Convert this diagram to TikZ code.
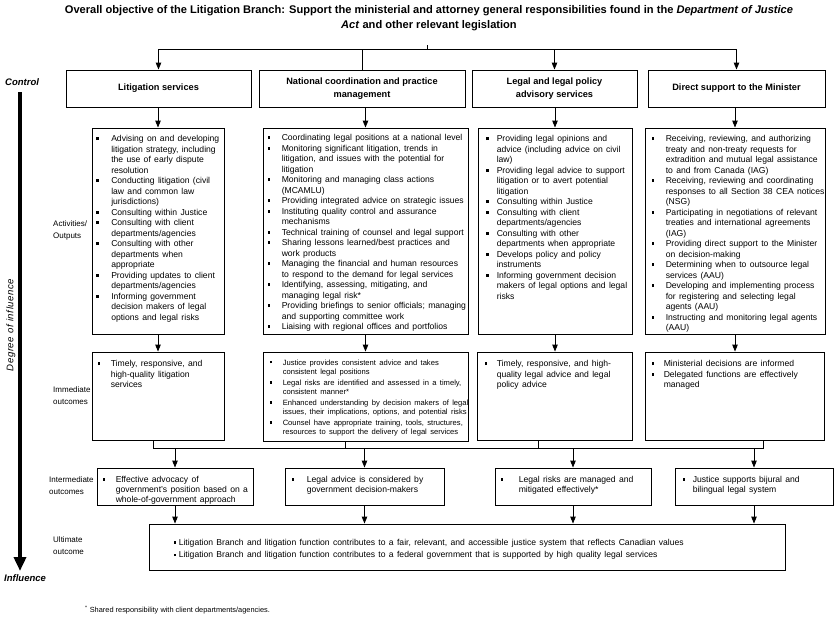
\documentclass[tikz,border=0pt]{standalone}
\usepackage{fontspec}
\setmainfont{Liberation Sans}
\usetikzlibrary{arrows.meta,calc,fit}
\newlength\itmI
\newlength\itmB
\newcommand\bsq{\rule[1.7pt]{2.6pt}{2.6pt}}
\newcommand\itm[1]{\par\noindent\hangindent=\itmI\hangafter=1\strut\makebox[\itmI][l]{\hspace{\itmB}\bsq}#1\strut\par}
\newcommand\brk{\newline}
\newcommand\setb[2]{\setlength\itmB{#1pt}\setlength\itmI{#2pt}}
\newcommand\actf{\fontsize{8.6}{10.5}\selectfont}
\newcommand\intf{\fontsize{8.6}{10}\selectfont}
\tikzset{
  boxf/.style={draw, line width=0.9pt, inner sep=0pt},
  txt/.style={anchor=north west, inner sep=0pt, text width=300pt},
  conn/.style={line width=0.9pt},
  arr/.style={line width=0.9pt, -{Triangle[width=5.5pt,length=7pt]}},
  hdr/.style={font=\fontsize{9.2}{13.5}\selectfont\bfseries, align=center},
  lab/.style={font=\fontsize{8}{12}\selectfont, align=left, anchor=west, inner sep=0pt},
  axlab/.style={font=\fontsize{9.5}{11}\selectfont\bfseries\itshape, anchor=west, inner sep=0pt},
}
\begin{document}
\begin{tikzpicture}[x=1pt,y=-1pt]
\useasboundingbox (0,0) rectangle (836,622);
\fill[white] (0,0) rectangle (836,622);

% title
\node[font=\fontsize{11.1}{15.5}\selectfont\bfseries, align=center] (title) at (429,18)
  {Overall objective of the Litigation Branch: Support the ministerial and attorney general responsibilities found in the \textit{Department of Justice}\\\textit{Act} and other relevant legislation};

% header boxes
\node[boxf, fit={(66,70) (251,107)}] (H1) {};
\node[hdr] (H1t) at (H1) {Litigation services};
\node[boxf, fit={(259,70) (465,107)}] (H2) {};
\node[hdr] (H2t) at (H2) {National coordination and practice\\management};
\node[boxf, fit={(472,70) (637,107)}] (H3) {};
\node[hdr] (H3t) at (H3) {Legal and legal policy\\advisory services};
\node[boxf, fit={(648,70) (825,107)}] (H4) {};
\node[hdr] (H4t) at (H4) {Direct support to the Minister};

% activities
\node[boxf, fit={(92,128) (224,334)}] (A) {};
\node[txt] (At) at ($(A.north west)+(0,3.5)$) {\actf\setb{4.5}{19.5}%
\itm{Advising on and developing\brk litigation strategy, including\brk the use of early dispute\brk resolution}
\itm{Conducting litigation (civil\brk law and common law\brk jurisdictions)}
\itm{Consulting within Justice}
\itm{Consulting with client\brk departments/agencies}
\itm{Consulting with other\brk departments when\brk appropriate}
\itm{Providing updates to client\brk departments/agencies}
\itm{Informing government\brk decision makers of legal\brk options and legal risks}};

\node[boxf, fit={(263,128) (468,334)}] (B) {};
\node[txt] (Bt) at ($(B.north west)+(0,2.5)$) {\actf\setb{5}{19}%
\itm{Coordinating legal positions at a national level}
\itm{Monitoring significant litigation, trends in\brk litigation, and issues with the potential for\brk litigation}
\itm{Monitoring and managing class actions\brk (MCAMLU)}
\itm{Providing integrated advice on strategic issues}
\itm{Instituting quality control and assurance\brk mechanisms}
\itm{Technical training of counsel and legal support}
\itm{Sharing lessons learned/best practices and\brk work products}
\itm{Managing the financial and human resources\brk to respond to the demand for legal services}
\itm{Identifying, assessing, mitigating, and\brk managing legal risk*}
\itm{Providing briefings to senior officials; managing\brk and supporting committee work}
\itm{Liaising with regional offices and portfolios}};

\node[boxf, fit={(478,128) (632,334)}] (C) {};
\node[txt] (Ct) at ($(C.north west)+(0,3.5)$) {\actf\setb{8.5}{19}%
\itm{Providing legal opinions and\brk advice (including advice on civil\brk law)}
\itm{Providing legal advice to support\brk litigation or to avert potential\brk litigation}
\itm{Consulting within Justice}
\itm{Consulting with client\brk departments/agencies}
\itm{Consulting with other\brk departments when appropriate}
\itm{Develops policy and policy\brk instruments}
\itm{Informing government decision\brk makers of legal options and legal\brk risks}};

\node[boxf, fit={(645,128) (825,334)}] (D) {};
\node[txt] (Dt) at ($(D.north west)+(0,3.5)$) {\actf\setb{7}{21}%
\itm{Receiving, reviewing, and authorizing\brk treaty and non-treaty requests for\brk extradition and mutual legal assistance\brk to and from Canada (IAG)}
\itm{Receiving, reviewing and coordinating\brk responses to all Section 38 CEA notices\brk (NSG)}
\itm{Participating in negotiations of relevant\brk treaties and international agreements\brk (IAG)}
\itm{Providing direct support to the Minister\brk on decision-making}
\itm{Determining when to outsource legal\brk services (AAU)}
\itm{Developing and implementing process\brk for registering and selecting legal\brk agents (AAU)}
\itm{Instructing and monitoring legal agents\brk (AAU)}};

% immediate outcomes
\node[boxf, fit={(92,352) (224,440)}] (IA) {};
\node[txt] (IAt) at ($(IA.north west)+(0,4.5)$) {\actf\setb{6}{19}%
\itm{Timely, responsive, and\brk high-quality litigation\brk services}};
\node[boxf, fit={(263,352) (468,441)}] (IB) {};
\node[txt] (IBt) at ($(IB.north west)+(0,2.4)$) {\fontsize{7.6}{9.2}\selectfont\setlength\parskip{1.8pt}\setb{7}{20}%
\itm{Justice provides consistent advice and takes\brk consistent legal positions}
\itm{Legal risks are identified and assessed in a timely,\brk consistent manner*}
\itm{Enhanced understanding by decision makers of legal\brk issues, their implications, options, and potential risks}
\itm{Counsel have appropriate training, tools, structures,\brk resources to support the delivery of legal services}};
\node[boxf, fit={(477,352) (632,440)}] (IC) {};
\node[txt] (ICt) at ($(IC.north west)+(0,4.5)$) {\actf\setb{8}{20}%
\itm{Timely, responsive, and high-\brk quality legal advice and legal\brk policy advice}};
\node[boxf, fit={(645,352) (824,440)}] (ID) {};
\node[txt] (IDt) at ($(ID.north west)+(0,4.5)$) {\actf\setb{7}{19}%
\itm{Ministerial decisions are informed}
\itm{Delegated functions are effectively\brk managed}};

% intermediate outcomes
\node[boxf, fit={(97,468) (253,505)}] (M1) {};
\node[txt] (M1t) at ($(M1.north west)+(0,4.5)$) {\intf\setb{6}{19}%
\itm{Effective advocacy of\brk government's position based on a\brk whole-of-government approach}};
\node[boxf, fit={(285,468) (444,505)}] (M2) {};
\node[txt] (M2t) at ($(M2.north west)+(0,4.5)$) {\intf\setb{7}{22}%
\itm{Legal advice is considered by\brk government decision-makers}};
\node[boxf, fit={(495,468) (651,505)}] (M3) {};
\node[txt] (M3t) at ($(M3.north west)+(0,4.5)$) {\intf\setb{6}{24}%
\itm{Legal risks are managed and\brk mitigated effectively*}};
\node[boxf, fit={(675,468) (833,505)}] (M4) {};
\node[txt] (M4t) at ($(M4.north west)+(0,4.5)$) {\intf\setb{8}{18}%
\itm{Justice supports bijural and\brk bilingual legal system}};

% ultimate outcome
\node[boxf, fit={(149,524) (785,570)}] (U) {};
\node[txt, text width=630pt] (Ut) at ($(U.north west)+(0,9)$) {\fontsize{8.6}{12.5}\selectfont\renewcommand\bsq{\rule[1.7pt]{2.3pt}{2.3pt}}\setb{25}{30}%
\itm{Litigation Branch and litigation function contributes to a fair, relevant, and accessible justice system that reflects Canadian values}
\itm{Litigation Branch and litigation function contributes to a federal government that is supported by high quality legal services}};

% left side labels
\node[lab] (L1) at (53,230) {Activities/\\Outputs};
\node[lab] (L2) at (53,396) {Immediate\\outcomes};
\node[lab] (L3) at (49,486) {Intermediate\\outcomes};
\node[lab] (L4) at (53,546) {Ultimate\\outcome};

% axis
\node[axlab] (ctl) at (5,82) {Control};
\node[axlab] (inf) at (4,578) {Influence};
\node[font=\fontsize{9.6}{10}\selectfont\itshape\addfontfeature{LetterSpace=6}, rotate=90, inner sep=0pt] (deg) at (11,325) {Degree of influence};
\coordinate (axT) at (20,92);
\coordinate (axB) at (20,571);
\draw[line width=3.6pt, -{Triangle[width=12pt,length=14pt]}] (axT) -- (axB);

% top bus
\coordinate (tb) at (0,49);
\coordinate (tt) at (427,45);
\draw[conn] (H1.north |- tb) -- (H4.north |- tb);
\draw[conn] (tt) -- (tt |- tb);
\draw[arr] (H1.north |- tb) -- (H1.north);
\draw[conn] (H2.north |- tb) -- (H2.north);
\draw[arr] (H3.north |- tb) -- (H3.north);
\draw[arr] (H4.north |- tb) -- (H4.north);

% headers to activities
\draw[arr] (A.north |- H1.south) -- (A.north);
\draw[arr] (B.north |- H2.south) -- (B.north);
\draw[arr] (C.north |- H3.south) -- (C.north);
\draw[arr] (D.north |- H4.south) -- (D.north);

% activities to immediate
\draw[arr] (A.south) -- (A.south |- IA.north);
\draw[arr] (B.south) -- (B.south |- IB.north);
\draw[arr] (C.south) -- (C.south |- IC.north);
\draw[arr] (D.south) -- (D.south |- ID.north);

% immediate bus
\coordinate (sA) at (153,448);
\coordinate (sB) at (345,448);
\coordinate (sC) at (538,448);
\coordinate (sD) at (763,448);
\draw[conn] (sA |- IA.south) -- (sA) -- (sD) -- (sD |- ID.south);
\draw[conn] (sB |- IB.south) -- (sB);
\draw[conn] (sC |- IC.south) -- (sC);
\draw[arr] (M1.north |- sA) -- (M1.north);
\draw[arr] (M2.north |- sA) -- (M2.north);
\draw[arr] (M3.north |- sA) -- (M3.north);
\draw[arr] (M4.north |- sA) -- (M4.north);

% intermediate to ultimate
\draw[arr] (M1.south) -- (M1.south |- U.north);
\draw[arr] (M2.south) -- (M2.south |- U.north);
\draw[arr] (M3.south) -- (M3.south |- U.north);
\draw[arr] (M4.south) -- (M4.south |- U.north);

% footnote
\node[anchor=west, font=\fontsize{7.4}{8}\selectfont, inner sep=0pt] (fn) at (85,610)
  {\textsuperscript{*} Shared responsibility with client departments/agencies.};
\end{tikzpicture}
\end{document}
